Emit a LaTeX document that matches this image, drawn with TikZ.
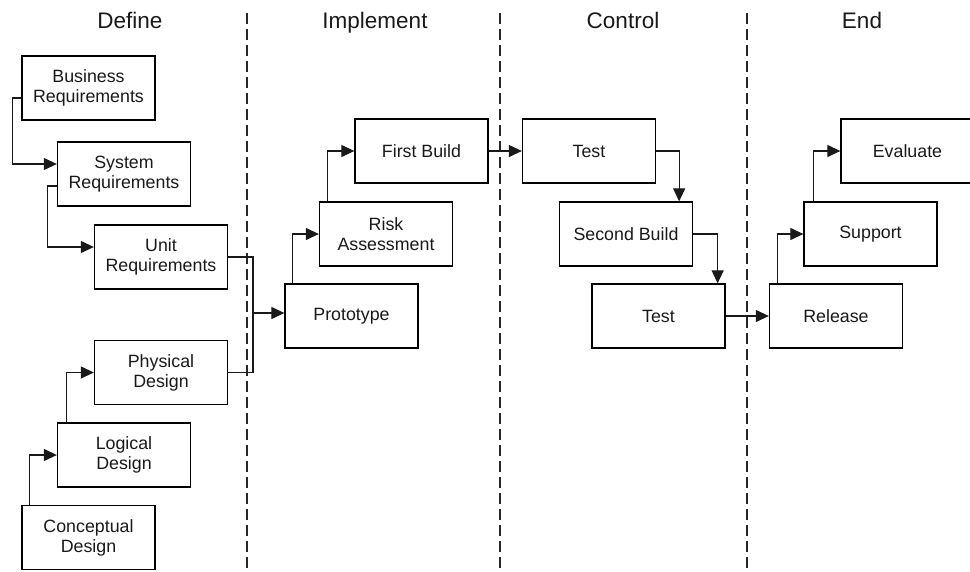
\documentclass[tikz,border=0pt]{standalone}
\usepackage{fontspec}
\setmainfont{Liberation Sans}
\usetikzlibrary{arrows.meta,calc}

\tikzset{
  stage/.style={draw=black, line width=1.3pt, rectangle, minimum width=133pt,
    minimum height=64pt, inner sep=0pt, align=center,
    font=\fontsize{17.8pt}{20pt}\selectfont, text=black!90},
  phase/.style={anchor=base, font=\fontsize{22.5pt}{26pt}\selectfont, text=black!90},
  link/.style={line width=1.2pt, draw=black!90},
  arr/.style={link, -{Triangle[length=13pt, width=12pt]}},
  divider/.style={line width=1.1pt, dash pattern=on 11pt off 5pt, draw=black!85}
}

\begin{document}
\begin{tikzpicture}[x=1pt, y=-1pt]
  \useasboundingbox (0,0) rectangle (970,571);

  % phase dividers
  \foreach \xd in {247,500,747}
    \draw[divider] (\xd,13) -- (\xd,571);

  % phase titles
  \node[phase] (hdef) at (130,28) {Define};
  \node[phase] (himp) at (375,28) {Implement};
  \node[phase] (hctl) at (623,28) {Control};
  \node[phase] (hend) at (862,28) {End};

  % Define: requirements
  \node[stage] (bus)  at (88.5,88)   {Business\\Requirements};
  \node[stage] (sys)  at (124,174)   {System\\Requirements};
  \node[stage] (unit) at (161,257)   {Unit\\Requirements};
  % Define: design
  \node[stage] (phys) at (161,372.5) {Physical\\Design};
  \node[stage] (log)  at (124,455)   {Logical\\Design};
  \node[stage] (con)  at (88.5,537.5){Conceptual\\Design};

  % Implement
  \node[stage] (proto) at (351.5,316) {Prototype};
  \node[stage] (risk)  at (386,234)   {Risk\\Assessment};
  \node[stage] (fb)    at (421.5,151) {First Build};

  % Control
  \node[stage] (t1) at (589,151)   {Test};
  \node[stage] (sb) at (626,234)   {Second Build};
  \node[stage] (t2) at (658.5,316) {Test};

  % End
  \node[stage] (rel) at (836,316)   {Release};
  \node[stage] (sup) at (870.5,234) {Support};
  \node[stage] (eva) at (907.5,151) {Evaluate};

  % requirement chain
  \draw[arr] ([yshift=-10pt]bus.west) -- ++(-9,0) |- ([yshift=10pt]sys.west);
  \draw[arr] ([yshift=-12pt]sys.west) -- ++(-9,0) |- ([yshift=10pt]unit.west);

  % design chain
  \draw[arr] ([xshift=8pt]con.north west) |- (log.west);
  \draw[arr] ([xshift=10pt]log.north west) |- (phys.west);

  % merge into prototype
  \coordinate (j) at (253,313);
  \draw[link] (unit.east) -- (unit.east -| j) -- (phys.east -| j) -- (phys.east);
  \draw[arr] (j) -- (proto.west |- j);

  % implementation chain
  \draw[arr] ([xshift=8pt]proto.north west) |- (risk.west);
  \draw[arr] ([xshift=9pt]risk.north west) |- (fb.west);
  \draw[arr] (fb.east) -- (t1.west);

  % control chain
  \draw[arr] (t1.east) -| ([xshift=-14pt]sb.north east);
  \draw[arr] (sb.east) -| ([xshift=-8pt]t2.north east);
  \draw[arr] (t2.east) -- (rel.west);

  % end chain
  \draw[arr] ([xshift=9pt]rel.north west) |- (sup.west);
  \draw[arr] ([xshift=10pt]sup.north west) |- (eva.west);
\end{tikzpicture}
\end{document}
